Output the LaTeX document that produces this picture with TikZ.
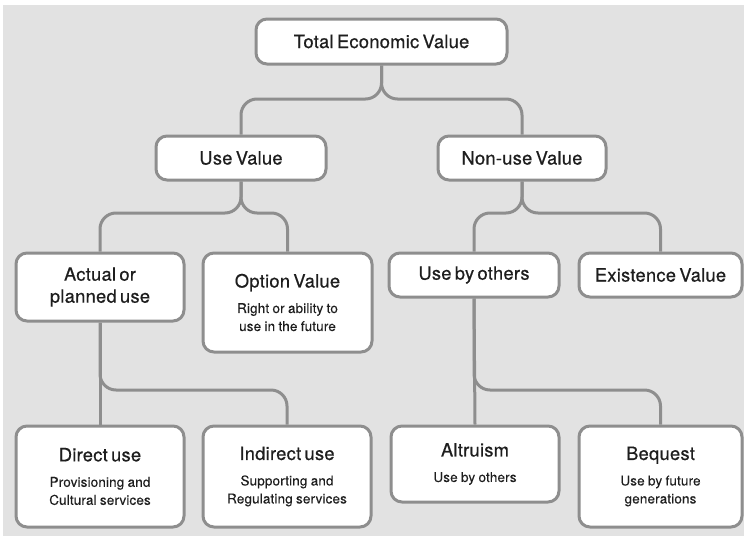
\documentclass[tikz,border=0pt]{standalone}
\usepackage{fontspec}
\setmainfont{TeX Gyre Heros}
\newfontfamily\hdfam[FakeBold=0.55,LetterSpace=1.5]{TeX Gyre Heros}
\newfontfamily\sbfam[FakeBold=0.2,LetterSpace=1]{TeX Gyre Heros}
\definecolor{bggray}{HTML}{E2E2E2}
\definecolor{linegray}{HTML}{8E8E8E}
\definecolor{txtdark}{HTML}{1E1E1E}
\newcommand{\hdtxt}{\hdfam\fontsize{18.3}{22}\selectfont}
\newcommand{\sbtxt}{\sbfam\fontsize{13.5}{18}\selectfont}
\tikzset{
  valbox/.style={draw=linegray, line width=3pt, fill=white, rounded corners=11pt,
    align=center, inner sep=0pt, text=txtdark},
  conn/.style={draw=linegray, line width=3pt, rounded corners=16pt}
}
\begin{document}
\begin{tikzpicture}[x=1pt,y=-1pt]
\useasboundingbox (0,0) rectangle (744,536);
\fill[white] (0,0) rectangle (744,536);
\fill[bggray] (3,5) rectangle (744,536);

% boxes
\node[valbox, minimum width=251pt, minimum height=45pt, text width=240pt] (tev) at (381.5,41.5) {\hdtxt Total Economic Value};
\node[valbox, minimum width=170pt, minimum height=44pt, text width=160pt] (uv) at (241,158) {\hdtxt Use Value};
\node[valbox, minimum width=168pt, minimum height=44pt, text width=160pt] (nuv) at (522,158) {\hdtxt Non-use Value};
\node[valbox, minimum width=168pt, minimum height=68pt, text width=160pt] (apu) at (100,287) {\hdtxt Actual or\\planned use\par};
\node[valbox, minimum width=169pt, minimum height=99pt, text width=160pt] (ov) at (287.5,302.5) {{\hdtxt Option Value\par}\vspace{7.5pt}{\sbtxt Right or ability to\\use in the future\par}};
\node[valbox, minimum width=170pt, minimum height=44pt, text width=160pt] (ubo) at (474,275) {\hdtxt Use by others};
\node[valbox, minimum width=163pt, minimum height=44pt, text width=155pt] (ev) at (660.5,275) {\hdtxt Existence Value};
\node[valbox, minimum width=168pt, minimum height=101pt, text width=160pt] (du) at (100,476.5) {{\hdtxt Direct use\par}\vspace{7.5pt}{\sbtxt Provisioning and\\Cultural services\par}};
\node[valbox, minimum width=168pt, minimum height=101pt, text width=160pt] (iu) at (287,476.5) {{\hdtxt Indirect use\par}\vspace{7.5pt}{\sbtxt Supporting and\\Regulating services\par}};
\node[valbox, minimum width=168pt, minimum height=76pt, text width=160pt] (al) at (475,464) {{\hdtxt Altruism\par}\vspace{7.5pt}{\sbtxt Use by others\par}};
\node[valbox, minimum width=163pt, minimum height=101pt, text width=155pt] (bq) at (660.5,476.5) {{\hdtxt Bequest\par}\vspace{7.5pt}{\sbtxt Use by future\\generations\par}};

% connectors level 1
\draw[conn] (tev.south) -- (tev.south |- 0,99) -- (uv.north |- 0,99) -- (uv.north);
\draw[conn] (tev.south) -- (tev.south |- 0,99) -- (nuv.north |- 0,99) -- (nuv.north);
% level 2
\draw[conn] (uv.south) -- (uv.south |- 0,213) -- (apu.north |- 0,213) -- (apu.north);
\draw[conn] (uv.south) -- (uv.south |- 0,213) -- (ov.north |- 0,213) -- (ov.north);
\draw[conn] (nuv.south) -- (nuv.south |- 0,213) -- (ubo.north |- 0,213) -- (ubo.north);
\draw[conn] (nuv.south) -- (nuv.south |- 0,213) -- (ev.north |- 0,213) -- (ev.north);
% level 3
\draw[conn] (apu.south) -- (du.north);
\draw[conn] (apu.south) -- (apu.south |- 0,390) -- (iu.north |- 0,390) -- (iu.north);
\draw[conn] (ubo.south) -- (al.north);
\draw[conn] (ubo.south) -- (ubo.south |- 0,390) -- (bq.north |- 0,390) -- (bq.north);
\end{tikzpicture}
\end{document}
